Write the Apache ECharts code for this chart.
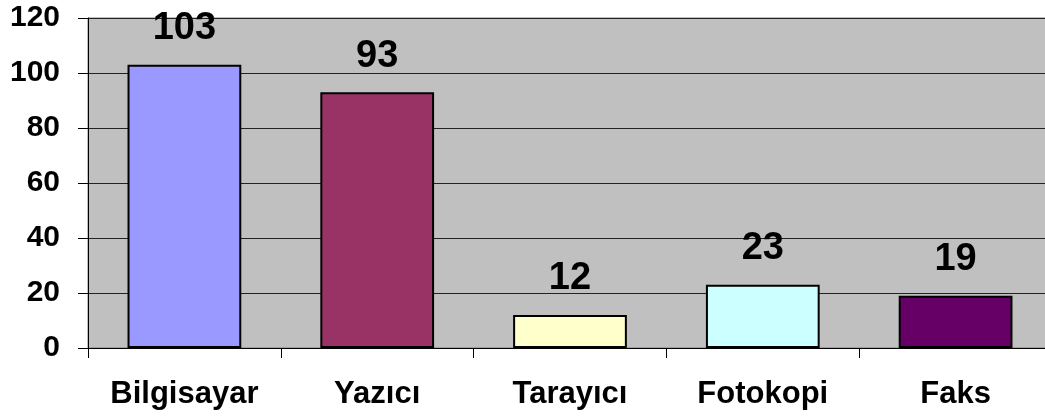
<!DOCTYPE html>
<html>
<head>
    <meta charset="UTF-8">
    <title></title>
    <style>
        html, body { margin: 0; padding: 0; background: #fff; }
        #container { width: 1045px; height: 419px; }
    </style>
</head>
<body>
    <div id="container"></div>
    <script src="https://cdn.jsdelivr.net/npm/echarts@6/dist/echarts.min.js"></script>
    <script>
        var categories = ['Bilgisayar', 'Yazıcı', 'Tarayıcı', 'Fotokopi', 'Faks'];
        var values = [103, 93, 12, 23, 19];
        var barColors = ['#9999FF', '#993366', '#FFFFCC', '#CCFFFF', '#660066'];

        var font = 'Arial, "Liberation Sans", sans-serif';

        var myChart = echarts.init(document.getElementById('container'));
        myChart.setOption({
            animation: false,
            grid: {
                left: 88,
                top: 18,
                right: -7,
                bottom: 71,
                outerBoundsMode: 'none',
                containLabel: false,
                show: true,
                backgroundColor: '#C0C0C0',
                borderColor: '#808080',
                borderWidth: 1
            },
            xAxis: {
                type: 'category',
                data: categories,
                axisLine: { lineStyle: { color: '#000', width: 1 } },
                axisTick: { show: true, length: 10, lineStyle: { color: '#000' } },
                axisLabel: {
                    margin: 31,
                    color: '#000',
                    fontFamily: font,
                    fontWeight: 'bold',
                    fontSize: 31
                }
            },
            yAxis: {
                type: 'value',
                min: 0,
                max: 120,
                interval: 20,
                axisLine: { show: true, lineStyle: { color: '#000' } },
                axisTick: { show: true, length: 10, lineStyle: { color: '#000' } },
                splitLine: { lineStyle: { color: '#222', width: 1 } },
                axisLabel: {
                    margin: 28,
                    color: '#000',
                    fontFamily: font,
                    fontWeight: 'bold',
                    fontSize: 30
                }
            },
            series: [{
                type: 'bar',
                barCategoryGap: '41%',
                data: values.map(function (v, i) {
                    return { value: v, itemStyle: { color: barColors[i] } };
                }),
                itemStyle: { borderColor: '#000', borderWidth: 2 },
                label: {
                    show: true,
                    position: 'top',
                    distance: 17,
                    color: '#000',
                    fontFamily: font,
                    fontWeight: 'bold',
                    fontSize: 38
                }
            }]
        });
    </script>
</body>
</html>
